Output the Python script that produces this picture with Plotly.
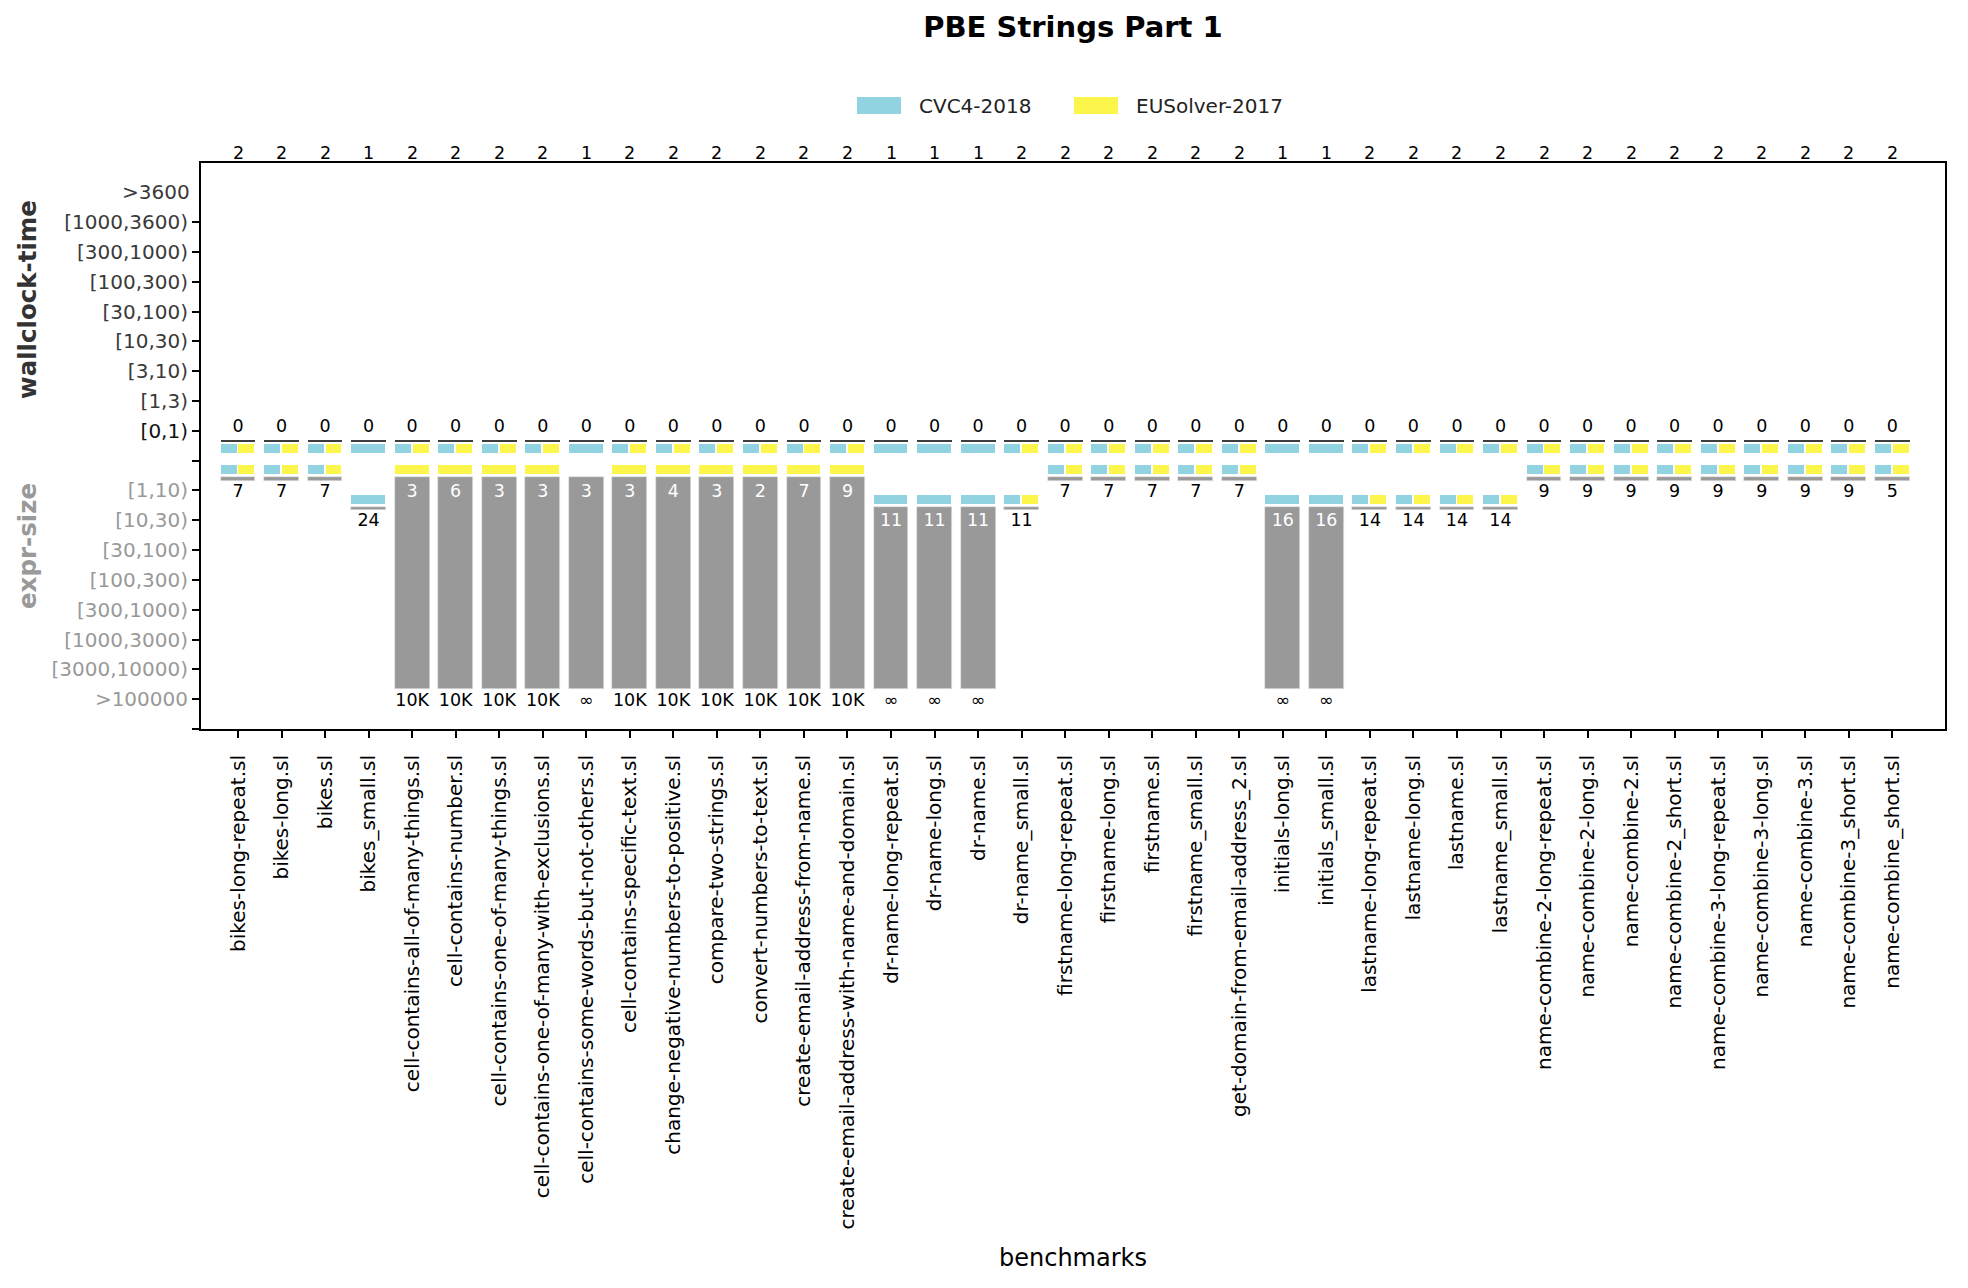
import bisect
import math
import plotly.graph_objects as go

# ---------------- data ----------------
benchmarks = [
    "bikes-long-repeat.sl", "bikes-long.sl", "bikes.sl", "bikes_small.sl",
    "cell-contains-all-of-many-things.sl", "cell-contains-number.sl",
    "cell-contains-one-of-many-things.sl", "cell-contains-one-of-many-with-exclusions.sl",
    "cell-contains-some-words-but-not-others.sl", "cell-contains-specific-text.sl",
    "change-negative-numbers-to-positive.sl", "compare-two-strings.sl",
    "convert-numbers-to-text.sl", "create-email-address-from-name.sl",
    "create-email-address-with-name-and-domain.sl", "dr-name-long-repeat.sl",
    "dr-name-long.sl", "dr-name.sl", "dr-name_small.sl", "firstname-long-repeat.sl",
    "firstname-long.sl", "firstname.sl", "firstname_small.sl",
    "get-domain-from-email-address_2.sl", "initials-long.sl", "initials_small.sl",
    "lastname-long-repeat.sl", "lastname-long.sl", "lastname.sl", "lastname_small.sl",
    "name-combine-2-long-repeat.sl", "name-combine-2-long.sl", "name-combine-2.sl",
    "name-combine-2_short.sl", "name-combine-3-long-repeat.sl", "name-combine-3-long.sl",
    "name-combine-3.sl", "name-combine-3_short.sl", "name-combine_short.sl",
]
solved_counts = [2, 2, 2, 1, 2, 2, 2, 2, 1, 2, 2, 2, 2, 2, 2, 1, 1, 1, 2, 2,
                 2, 2, 2, 2, 1, 1, 2, 2, 2, 2, 2, 2, 2, 2, 2, 2, 2, 2, 2]
best_time = [0, 0, 0, 0, 0, 0, 0, 0, 0, 0, 0, 0, 0, 0, 0, 0, 0, 0, 0, 0,
             0, 0, 0, 0, 0, 0, 0, 0, 0, 0, 0, 0, 0, 0, 0, 0, 0, 0, 0]
# which solvers reach the best time: C = CVC4-2018, E = EUSolver-2017
time_solvers = ["CE", "CE", "CE", "C", "CE", "CE", "CE", "CE", "C", "CE",
                "CE", "CE", "CE", "CE", "CE", "C", "C", "C", "CE", "CE",
                "CE", "CE", "CE", "CE", "C", "C", "CE", "CE", "CE", "CE",
                "CE", "CE", "CE", "CE", "CE", "CE", "CE", "CE", "CE"]
INF = math.inf
size_min = [7, 7, 7, 24, 3, 6, 3, 3, 3, 3, 4, 3, 2, 7, 9, 11, 11, 11, 11, 7,
            7, 7, 7, 7, 16, 16, 14, 14, 14, 14, 9, 9, 9, 9, 9, 9, 9, 9, 5]
size_max = [None, None, None, None, 10000, 10000, 10000, 10000, INF, 10000,
            10000, 10000, 10000, 10000, 10000, INF, INF, INF, None, None,
            None, None, None, None, INF, INF, None, None, None, None,
            None, None, None, None, None, None, None, None, None]
size_solvers = ["CE", "CE", "CE", "C", "E", "E", "E", "E", "", "E",
                "E", "E", "E", "E", "E", "C", "C", "C", "CE", "CE",
                "CE", "CE", "CE", "CE", "C", "C", "CE", "CE", "CE", "CE",
                "CE", "CE", "CE", "CE", "CE", "CE", "CE", "CE", "CE"]

time_labels = [">3600", "[1000,3600)", "[300,1000)", "[100,300)", "[30,100)",
               "[10,30)", "[3,10)", "[1,3)", "[0,1)"]
time_edges = [0, 1, 3, 10, 30, 100, 300, 1000, 3600]
size_labels = ["[1,10)", "[10,30)", "[30,100)", "[100,300)", "[300,1000)",
               "[1000,3000)", "[3000,10000)", ">100000"]
size_edges = [1, 10, 30, 100, 300, 1000, 3000, 10000]
solver_names = ["CVC4-2018", "EUSolver-2017"]

# ---------------- style ----------------
CYAN = "#92d3e1"
YELLOW = "#fcf54b"
DARK = "#3d3d3d"
GRAY = "#999999"
FONT = "DejaVu Sans"
W, H = 1968, 1288
ML, MR, MT, MB = 201, 23, 163, 559

n_time = len(time_labels)
MID = n_time  # position of the separator between the two halves


def time_pos(v):
    k = bisect.bisect_right(time_edges, v) - 1
    return (n_time - 1) - k


def size_pos(v):
    k = min(bisect.bisect_right(size_edges, v) - 1, len(size_edges) - 1)
    return MID + 1 + k


def fmt(v):
    if v == INF:
        return "\u221e"
    if v >= 1000:
        return f"{int(v / 1000)}K"
    return str(int(v))


n = len(benchmarks)
idx = list(range(n))
tpos = [time_pos(v) for v in best_time]
bmin = [size_pos(v) for v in size_min]
bmax = [size_pos(v) if v is not None else None for v in size_max]


def row_cells(solvers, code):
    xs, ws = [], []
    for i in idx:
        s = solvers[i]
        if code not in s:
            xs.append(None); ws.append(0.39)
            continue
        if len(s) == 2:
            xs.append(i - 0.205 if code == "C" else i + 0.205); ws.append(0.39)
        else:
            xs.append(i); ws.append(0.8)
    return xs, ws


fig = go.Figure()
cell_line = dict(color="white", width=1)

# dark line marking best time
fig.add_trace(go.Bar(x=idx, y=[0.067] * n, base=[t + 0.325 for t in tpos], width=0.8,
                     marker=dict(color=DARK, line=dict(width=0)), showlegend=False,
                     hoverinfo="skip"))
# solver cells at best time / best size
for code, col, nm in (("C", CYAN, solver_names[0]), ("E", YELLOW, solver_names[1])):
    xs, ws = row_cells(time_solvers, code)
    fig.add_trace(go.Bar(x=xs, y=[0.348] * n, base=[t + 0.446 for t in tpos], width=ws,
                         marker=dict(color=col, line=cell_line), showlegend=False, name=nm))
    xs, ws = row_cells(size_solvers, code)
    fig.add_trace(go.Bar(x=xs, y=[0.335] * n, base=[b - 0.851 for b in bmin], width=ws,
                         marker=dict(color=col, line=cell_line), showlegend=False, name=nm))

# gray expr-size range bars
g_base, g_h = [], []
for i in idx:
    top = bmin[i] - 0.45
    bot = (bmax[i] - 0.34) if bmax[i] is not None else (bmin[i] - 0.33)
    g_base.append(top); g_h.append(bot - top)
fig.add_trace(go.Bar(x=idx, y=g_h, base=g_base, width=0.8,
                     marker=dict(color=GRAY, line=dict(color="#e6e6e6", width=0.6)),
                     showlegend=False, hoverinfo="skip"))

LBL = 17.5
txt_font = dict(family=FONT, size=LBL, color="black")
# best time labels
fig.add_trace(go.Scatter(x=idx, y=[t - 0.09 for t in tpos], mode="text",
                         text=[fmt(v) for v in best_time], textfont=txt_font,
                         showlegend=False, hoverinfo="skip", cliponaxis=False))
# min size labels (white inside range bars, black otherwise)
for inside, col in ((True, "white"), (False, "black")):
    xs = [i if ((bmax[i] is not None) == inside) else None for i in idx]
    fig.add_trace(go.Scatter(x=xs, y=[b + 0.06 for b in bmin], mode="text",
                             text=[fmt(v) for v in size_min],
                             textfont=dict(family=FONT, size=LBL, color=col),
                             showlegend=False, hoverinfo="skip", cliponaxis=False))
# max size labels
fig.add_trace(go.Scatter(x=[i if bmax[i] is not None else None for i in idx],
                         y=[(b + 0.09) if b is not None else None for b in bmax],
                         mode="text",
                         text=[fmt(v) if v is not None else "" for v in size_max],
                         textfont=txt_font, showlegend=False, hoverinfo="skip",
                         cliponaxis=False))
# solved counts just above the frame
for i, c in zip(idx, solved_counts):
    fig.add_annotation(x=i, y=1, xref="x", yref="paper", yshift=10, text=str(c),
                       showarrow=False, xanchor="center", yanchor="middle", font=txt_font)

# ---------------- axes ----------------
ytickvals, ytext = [], []
for k, lab in enumerate(time_labels):
    if k == 0:
        continue
    col = "#111111" if k == n_time - 1 else "#3a3a3a"
    ytickvals.append(k); ytext.append(f'<span style="color:{col}">{lab}</span>')
ytickvals.append(MID); ytext.append("")
for k, lab in enumerate(size_labels):
    ytickvals.append(MID + 1 + k); ytext.append(f'<span style="color:#999999">{lab}</span>')
ytickvals.append(MID + 1 + len(size_labels)); ytext.append("")

fig.update_layout(
    width=W, height=H, margin=dict(l=ML, r=MR, t=MT, b=MB, pad=0),
    paper_bgcolor="white", plot_bgcolor="white", barmode="overlay",
    bargap=0, showlegend=False,
    font=dict(family=FONT, color="black"),
    title=dict(text="<b>PBE Strings Part 1</b>", x=0.5, xref="paper", xanchor="center",
               y=1 - 27 / H, yref="container", yanchor="middle",
               font=dict(family=FONT, size=29, color="black")),
)
fig.update_xaxes(range=[-0.85, 39.21], tickmode="array", tickvals=idx, ticktext=benchmarks,
                 tickangle=-90, ticks="outside", ticklen=7, tickwidth=1.5, tickcolor="black",
                 tickfont=dict(family=FONT, size=20, color="black"),
                 showline=True, linecolor="black", linewidth=2, mirror=True,
                 showgrid=False, zeroline=False, ticklabelstandoff=9)
fig.update_yaxes(range=[MID + 1 + len(size_labels), -0.98], tickmode="array",
                 tickvals=ytickvals, ticktext=ytext, ticks="outside", ticklen=7,
                 tickwidth=1.5, tickcolor="black",
                 tickfont=dict(family=FONT, size=20, color="#3a3a3a"),
                 showline=True, linecolor="black", linewidth=2, mirror=True,
                 showgrid=False, zeroline=False)

pw, ph = W - ML - MR, H - MT - MB


def px(x):
    return (x - ML) / pw


def py(y):
    return (H - MB - y) / ph


# top tick label without a tick mark
fig.add_annotation(x=0, xref="paper", y=0, yref="y", xanchor="right", yanchor="middle",
                   xshift=-9, text=time_labels[0], showarrow=False,
                   font=dict(family=FONT, size=20, color="#3a3a3a"))
# axis titles
fig.add_annotation(x=px(27), y=py(300), xref="paper", yref="paper", text="<b>wallclock-time</b>",
                   textangle=-90, showarrow=False, xanchor="center", yanchor="middle",
                   font=dict(family=FONT, size=24.5, color="#333333"))
fig.add_annotation(x=px(27), y=py(546), xref="paper", yref="paper", text="<b>expr-size</b>",
                   textangle=-90, showarrow=False, xanchor="center", yanchor="middle",
                   font=dict(family=FONT, size=24.5, color="#999999"))
fig.add_annotation(x=0.5, y=py(1258), xref="paper", yref="paper", text="benchmarks",
                   showarrow=False, xanchor="center", yanchor="middle",
                   font=dict(family=FONT, size=24, color="black"))

# legend
for (x0, x1, tx), col, nm in (((857, 901, 917), CYAN, solver_names[0]),
                              ((1074, 1118, 1134), YELLOW, solver_names[1])):
    fig.add_shape(type="rect", xref="paper", yref="paper", x0=px(x0), x1=px(x1),
                  y0=py(114), y1=py(97), fillcolor=col, line=dict(width=0))
    fig.add_annotation(x=px(tx), y=py(106), xref="paper", yref="paper", text=nm,
                       showarrow=False, xanchor="left", yanchor="middle",
                       font=dict(family=FONT, size=20, color="#222222"))

fig.write_html("out.html")
